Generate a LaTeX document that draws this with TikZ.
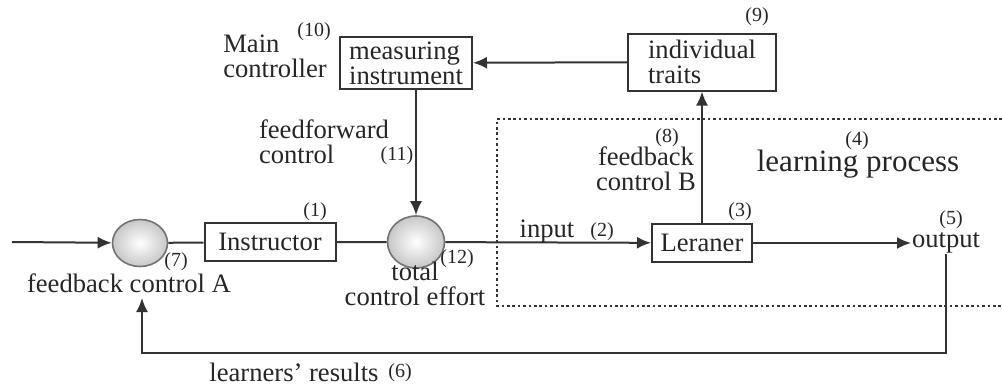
\documentclass[tikz,border=0pt]{standalone}
\usepackage{fontspec}
\setmainfont{Liberation Serif}
\usetikzlibrary{arrows.meta,shapes.geometric}
\begin{document}
\begin{tikzpicture}[x=0.5pt,y=-0.5pt,
    every node/.style={font=\fontsize{13.3}{12.5}\selectfont, text=black!85, inner sep=0pt},
    ctrlbox/.style={draw=black!80, line width=1pt, inner sep=2pt},
    sumnode/.style={ellipse, draw=black!55, line width=0.8pt, inner color=white, outer color=black!22},
    flow/.style={-{Latex[length=7pt,width=6pt]}},
    numlabel/.style={font=\fontsize{10}{10}\selectfont}]
    \useasboundingbox (0,0) rectangle (1002,386);
    \begin{scope}[line width=1pt, draw=black!80]

    \draw[dotted, line width=1.3pt, dash pattern=on 1.3pt off 1.4pt]
    (1002,119) -- (497,119) -- (497,306) -- (1002,306);

    \node[sumnode, minimum width=27.5pt, minimum height=23.5pt] (sumA) at (140,243) {};
    \node[sumnode, minimum width=28.5pt, minimum height=26pt] (sumB) at (416,242) {};
    \node[ctrlbox, minimum width=65.5pt, minimum height=19pt] (instructor) at (270,242) {Instructor};
    \node[ctrlbox, minimum width=50pt, minimum height=19pt] (learner) at (702,243) {Leraner};
    \node[ctrlbox, minimum width=66pt, minimum height=26pt, align=left] (measure) at (406,63) {measuring\\instrument};
    \node[ctrlbox, minimum width=74pt, minimum height=28.5pt, align=left] (traits) at (702,62) {individual\\traits};
    \node (output) at (946,243) {output};

    \coordinate (start) at (12,242);
    \coordinate (returnline) at (500,353);
    \coordinate (fbA) at (142,298);

    \draw[flow] (start) -- (sumA);
    \draw (sumA) -- (instructor) -- (sumB);
    \draw[flow] (sumB) -- (learner);
    \draw[flow] (learner) -- (output);
    \draw[flow] (output.south) |- (returnline) -| (fbA);
    \draw[flow] (traits) -- (measure);
    \draw[flow] (measure.south -| sumB.north) -- (sumB.north);
    \draw[flow] (learner.north) -- (traits.south);
    \end{scope}

    \node (labelA) at (129,283) {feedback control A};
    \node[align=center] (effort) at (415,284) {total\\control effort};
    \node (results) at (294,372) {learners’ results};
    \node[align=left] (mainctrl) at (275,56) {Main\\controller};
    \node[align=left] (ffwd) at (324,142) {feedforward\\control};
    \node[align=center] (fbB) at (646,169) {feedback\\control B};
    \node[font=\fontsize{15.5}{16}\selectfont] (process) at (858,164) {learning process};
    \node (input) at (547,232) {input};

    \node[numlabel] (n1) at (315,212) {(1)};
    \node[numlabel] (n2) at (602,232) {(2)};
    \node[numlabel] (n3) at (740,212) {(3)};
    \node[numlabel] (n4) at (857,141) {(4)};
    \node[numlabel] (n5) at (951,220) {(5)};
    \node[numlabel] (n6) at (400,373) {(6)};
    \node[numlabel] (n7) at (176,262) {(7)};
    \node[numlabel] (n8) at (667,138) {(8)};
    \node[numlabel] (n9) at (757,17) {(9)};
    \node[numlabel] (n10) at (314,32) {(10)};
    \node[numlabel] (n11) at (397,156) {(11)};
    \node[numlabel] (n12) at (457,259) {(12)};
  \end{tikzpicture}
\end{document}
